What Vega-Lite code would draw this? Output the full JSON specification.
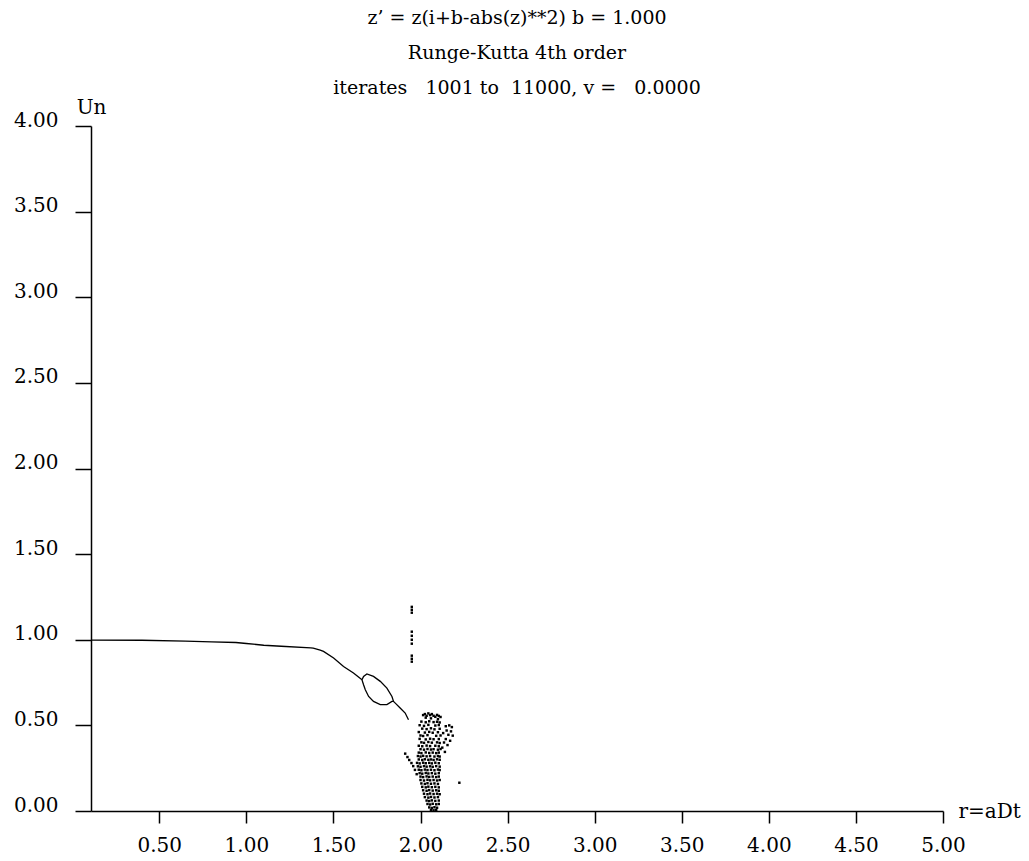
{
  "$schema": "https://vega.github.io/schema/vega-lite/v6.json",
  "width": 852,
  "height": 685,
  "autosize": {"type": "none"},
  "padding": {"left": 91, "top": 126, "right": 86, "bottom": 50},
  "background": "white",
  "title": {
    "text": ["z’ = z(i+b-abs(z)**2) b = 1.000", "Runge-Kutta 4th order", "iterates \u00a0 1001 to \u00a011000, v = \u00a0 0.0000"],
    "font": "DejaVu Serif",
    "fontSize": 19,
    "fontWeight": "normal",
    "color": "black",
    "anchor": "middle",
    "lineHeight": 35,
    "offset": -1
  },
  "datasets": {
    "curve": [
      {"seg": "main", "r": 0.108, "u": 0.998},
      {"seg": "main", "r": 0.40, "u": 0.997},
      {"seg": "main", "r": 0.65, "u": 0.992},
      {"seg": "main", "r": 0.80, "u": 0.988},
      {"seg": "main", "r": 0.94, "u": 0.984},
      {"seg": "main", "r": 1.00, "u": 0.978},
      {"seg": "main", "r": 1.10, "u": 0.968},
      {"seg": "main", "r": 1.20, "u": 0.962},
      {"seg": "main", "r": 1.37, "u": 0.953},
      {"seg": "main", "r": 1.384, "u": 0.951},
      {"seg": "main", "r": 1.424, "u": 0.940},
      {"seg": "main", "r": 1.443, "u": 0.932},
      {"seg": "main", "r": 1.501, "u": 0.893},
      {"seg": "main", "r": 1.558, "u": 0.844},
      {"seg": "main", "r": 1.615, "u": 0.806},
      {"seg": "main", "r": 1.664, "u": 0.766},
      {"seg": "upper", "r": 1.664, "u": 0.766},
      {"seg": "upper", "r": 1.673, "u": 0.786},
      {"seg": "upper", "r": 1.692, "u": 0.800},
      {"seg": "upper", "r": 1.730, "u": 0.786},
      {"seg": "upper", "r": 1.769, "u": 0.757},
      {"seg": "upper", "r": 1.807, "u": 0.718},
      {"seg": "upper", "r": 1.836, "u": 0.669},
      {"seg": "upper", "r": 1.845, "u": 0.640},
      {"seg": "upper", "r": 1.855, "u": 0.630},
      {"seg": "upper", "r": 1.883, "u": 0.601},
      {"seg": "upper", "r": 1.912, "u": 0.572},
      {"seg": "upper", "r": 1.931, "u": 0.533},
      {"seg": "lower", "r": 1.664, "u": 0.766},
      {"seg": "lower", "r": 1.673, "u": 0.737},
      {"seg": "lower", "r": 1.683, "u": 0.708},
      {"seg": "lower", "r": 1.702, "u": 0.669},
      {"seg": "lower", "r": 1.730, "u": 0.640},
      {"seg": "lower", "r": 1.769, "u": 0.621},
      {"seg": "lower", "r": 1.807, "u": 0.621},
      {"seg": "lower", "r": 1.836, "u": 0.640},
      {"seg": "lower", "r": 1.845, "u": 0.640}
    ],
    "pts": [
      {"r": 1.95, "u": 1.192}, {"r": 1.95, "u": 1.175}, {"r": 1.95, "u": 1.158},
      {"r": 1.95, "u": 1.047}, {"r": 1.95, "u": 1.023}, {"r": 1.95, "u": 1.000}, {"r": 1.95, "u": 0.977},
      {"r": 1.95, "u": 0.907}, {"r": 1.95, "u": 0.889}, {"r": 1.95, "u": 0.872},
      {"r": 2.223, "u": 0.165},
      {"r": 1.912, "u": 0.335}, {"r": 1.925, "u": 0.315}, {"r": 1.935, "u": 0.298}, {"r": 1.948, "u": 0.280},
      {"r": 1.958, "u": 0.262}, {"r": 1.968, "u": 0.240}, {"r": 1.978, "u": 0.215},
      {"r": 2.015, "u": 0.560}, {"r": 2.025, "u": 0.566}, {"r": 2.035, "u": 0.556}, {"r": 2.045, "u": 0.570},
      {"r": 2.055, "u": 0.560}, {"r": 2.065, "u": 0.566}, {"r": 2.075, "u": 0.556}, {"r": 2.085, "u": 0.550},
      {"r": 2.095, "u": 0.561}, {"r": 2.105, "u": 0.555}, {"r": 2.115, "u": 0.549}, {"r": 2.03, "u": 0.545},
      {"r": 2.06, "u": 0.541}, {"r": 2.10, "u": 0.536},
      {"r": 2.145, "u": 0.495}, {"r": 2.165, "u": 0.500}, {"r": 2.18, "u": 0.490}, {"r": 2.15, "u": 0.470},
      {"r": 2.175, "u": 0.465}, {"r": 2.16, "u": 0.445}, {"r": 2.185, "u": 0.440}, {"r": 2.145, "u": 0.420},
      {"r": 2.17, "u": 0.410}, {"r": 2.155, "u": 0.385}, {"r": 2.13, "u": 0.455}, {"r": 2.135, "u": 0.400},
      {"r": 2.125, "u": 0.370}, {"r": 2.14, "u": 0.345},
      {"r": 2.005, "u": 0.522}, {"r": 2.03, "u": 0.518}, {"r": 2.05, "u": 0.524}, {"r": 2.075, "u": 0.519}, {"r": 2.095, "u": 0.521}, {"r": 2.11, "u": 0.517},
      {"r": 1.995, "u": 0.501}, {"r": 2.02, "u": 0.497}, {"r": 2.045, "u": 0.503}, {"r": 2.085, "u": 0.499}, {"r": 2.105, "u": 0.502},
      {"r": 2.01, "u": 0.481}, {"r": 2.035, "u": 0.478}, {"r": 2.06, "u": 0.483}, {"r": 2.08, "u": 0.477}, {"r": 2.11, "u": 0.480},
      {"r": 1.99, "u": 0.461}, {"r": 2.025, "u": 0.458}, {"r": 2.05, "u": 0.462}, {"r": 2.07, "u": 0.457}, {"r": 2.10, "u": 0.460},
      {"r": 2.0, "u": 0.441}, {"r": 2.015, "u": 0.438}, {"r": 2.04, "u": 0.443}, {"r": 2.09, "u": 0.439}, {"r": 2.115, "u": 0.441},
      {"r": 1.995, "u": 0.421}, {"r": 2.03, "u": 0.418}, {"r": 2.055, "u": 0.422}, {"r": 2.075, "u": 0.419}, {"r": 2.105, "u": 0.420},
      {"r": 2.005, "u": 0.401}, {"r": 2.02, "u": 0.398}, {"r": 2.045, "u": 0.403}, {"r": 2.065, "u": 0.399}, {"r": 2.095, "u": 0.401}, {"r": 2.11, "u": 0.397},
      {"r": 1.99, "u": 0.381}, {"r": 2.01, "u": 0.378}, {"r": 2.035, "u": 0.382}, {"r": 2.055, "u": 0.379}, {"r": 2.085, "u": 0.381}, {"r": 2.105, "u": 0.378},
      {"r": 2.0, "u": 0.361}, {"r": 2.02, "u": 0.358}, {"r": 2.04, "u": 0.362}, {"r": 2.06, "u": 0.359}, {"r": 2.075, "u": 0.361}, {"r": 2.10, "u": 0.358}, {"r": 2.115, "u": 0.362},
      {"r": 1.99, "u": 0.341}, {"r": 2.005, "u": 0.338}, {"r": 2.03, "u": 0.342}, {"r": 2.05, "u": 0.339}, {"r": 2.07, "u": 0.341}, {"r": 2.09, "u": 0.338}, {"r": 2.105, "u": 0.341},
      {"r": 1.985, "u": 0.321}, {"r": 2.0, "u": 0.318}, {"r": 2.015, "u": 0.322}, {"r": 2.035, "u": 0.319}, {"r": 2.055, "u": 0.321}, {"r": 2.08, "u": 0.318}, {"r": 2.10, "u": 0.321}, {"r": 2.11, "u": 0.318},
      {"r": 1.99, "u": 0.301}, {"r": 2.01, "u": 0.298}, {"r": 2.025, "u": 0.302}, {"r": 2.045, "u": 0.299}, {"r": 2.06, "u": 0.301}, {"r": 2.075, "u": 0.298}, {"r": 2.095, "u": 0.302}, {"r": 2.11, "u": 0.299},
      {"r": 1.98, "u": 0.281}, {"r": 1.995, "u": 0.278}, {"r": 2.015, "u": 0.282}, {"r": 2.03, "u": 0.279}, {"r": 2.05, "u": 0.281}, {"r": 2.065, "u": 0.278}, {"r": 2.085, "u": 0.282}, {"r": 2.105, "u": 0.279},
      {"r": 1.985, "u": 0.261}, {"r": 2.0, "u": 0.258}, {"r": 2.02, "u": 0.262}, {"r": 2.035, "u": 0.259}, {"r": 2.055, "u": 0.261}, {"r": 2.07, "u": 0.258}, {"r": 2.09, "u": 0.262}, {"r": 2.11, "u": 0.259},
      {"r": 1.99, "u": 0.241}, {"r": 2.005, "u": 0.238}, {"r": 2.025, "u": 0.242}, {"r": 2.04, "u": 0.239}, {"r": 2.06, "u": 0.241}, {"r": 2.08, "u": 0.238}, {"r": 2.10, "u": 0.242}, {"r": 2.11, "u": 0.239},
      {"r": 1.995, "u": 0.221}, {"r": 2.01, "u": 0.218}, {"r": 2.03, "u": 0.222}, {"r": 2.045, "u": 0.219}, {"r": 2.065, "u": 0.221}, {"r": 2.085, "u": 0.218}, {"r": 2.105, "u": 0.221},
      {"r": 2.0, "u": 0.201}, {"r": 2.015, "u": 0.198}, {"r": 2.035, "u": 0.202}, {"r": 2.05, "u": 0.199}, {"r": 2.07, "u": 0.201}, {"r": 2.09, "u": 0.198}, {"r": 2.105, "u": 0.201},
      {"r": 2.0, "u": 0.181}, {"r": 2.02, "u": 0.178}, {"r": 2.04, "u": 0.182}, {"r": 2.055, "u": 0.179}, {"r": 2.075, "u": 0.181}, {"r": 2.095, "u": 0.178}, {"r": 2.11, "u": 0.181},
      {"r": 2.005, "u": 0.161}, {"r": 2.025, "u": 0.158}, {"r": 2.04, "u": 0.162}, {"r": 2.06, "u": 0.159}, {"r": 2.08, "u": 0.161}, {"r": 2.10, "u": 0.158},
      {"r": 2.01, "u": 0.141}, {"r": 2.03, "u": 0.138}, {"r": 2.045, "u": 0.142}, {"r": 2.065, "u": 0.139}, {"r": 2.085, "u": 0.141}, {"r": 2.105, "u": 0.138},
      {"r": 2.015, "u": 0.121}, {"r": 2.035, "u": 0.118}, {"r": 2.05, "u": 0.122}, {"r": 2.07, "u": 0.119}, {"r": 2.09, "u": 0.121}, {"r": 2.105, "u": 0.118},
      {"r": 2.02, "u": 0.101}, {"r": 2.04, "u": 0.098}, {"r": 2.055, "u": 0.102}, {"r": 2.075, "u": 0.099}, {"r": 2.095, "u": 0.101}, {"r": 2.11, "u": 0.098},
      {"r": 2.025, "u": 0.081}, {"r": 2.045, "u": 0.078}, {"r": 2.06, "u": 0.082}, {"r": 2.08, "u": 0.079}, {"r": 2.10, "u": 0.081},
      {"r": 2.035, "u": 0.061}, {"r": 2.05, "u": 0.058}, {"r": 2.065, "u": 0.062}, {"r": 2.085, "u": 0.059}, {"r": 2.105, "u": 0.061},
      {"r": 2.04, "u": 0.041}, {"r": 2.055, "u": 0.038}, {"r": 2.07, "u": 0.042}, {"r": 2.09, "u": 0.039}, {"r": 2.105, "u": 0.041},
      {"r": 2.05, "u": 0.021}, {"r": 2.065, "u": 0.018}, {"r": 2.08, "u": 0.022}, {"r": 2.095, "u": 0.019},
      {"r": 2.06, "u": 0.006}, {"r": 2.075, "u": 0.004}, {"r": 2.09, "u": 0.006}
    ]
  },
  "encoding": {
    "x": {
      "field": "r",
      "type": "quantitative",
      "scale": {"domain": [0.108, 5.0], "nice": false, "zero": false},
      "axis": {
        "values": [0.5, 1.0, 1.5, 2.0, 2.5, 3.0, 3.5, 4.0, 4.5, 5.0],
        "format": ".2f",
        "title": "r=aDt",
        "titleX": 867,
        "titleY": 6,
        "titleAlign": "left",
        "titleBaseline": "alphabetic",
        "titleAngle": 0,
        "tickSize": 12,
        "labelPadding": 12,
        "labelBaseline": "top"
      }
    },
    "y": {
      "field": "u",
      "type": "quantitative",
      "scale": {"domain": [0, 4], "nice": false, "zero": false},
      "axis": {
        "values": [0, 0.5, 1.0, 1.5, 2.0, 2.5, 3.0, 3.5, 4.0],
        "format": ".2f",
        "title": "Un",
        "titleX": 0,
        "titleY": -13,
        "titleAlign": "center",
        "titleBaseline": "alphabetic",
        "titleAngle": 0,
        "tickSize": 16,
        "labelPadding": 17,
        "labelBaseline": "alphabetic",
        "labelAlign": "right"
      }
    }
  },
  "layer": [
    {
      "data": {"name": "curve"},
      "mark": {"type": "line", "color": "black", "strokeWidth": 1.3},
      "encoding": {"detail": {"field": "seg", "type": "nominal"}}
    },
    {
      "data": {"name": "pts"},
      "mark": {"type": "square", "color": "black", "size": 6, "opacity": 1, "filled": true},
      "encoding": {}
    }
  ],
  "config": {
    "view": {"stroke": null},
    "axis": {
      "grid": false,
      "domainColor": "black",
      "domainWidth": 1.5,
      "tickColor": "black",
      "tickWidth": 1.5,
      "labelColor": "black",
      "titleColor": "black",
      "labelFont": "DejaVu Serif",
      "labelFontSize": 20,
      "titleFont": "DejaVu Serif",
      "titleFontSize": 20,
      "titleFontWeight": "normal",
      "labelFlush": false,
      "labelOverlap": false
    }
  }
}
